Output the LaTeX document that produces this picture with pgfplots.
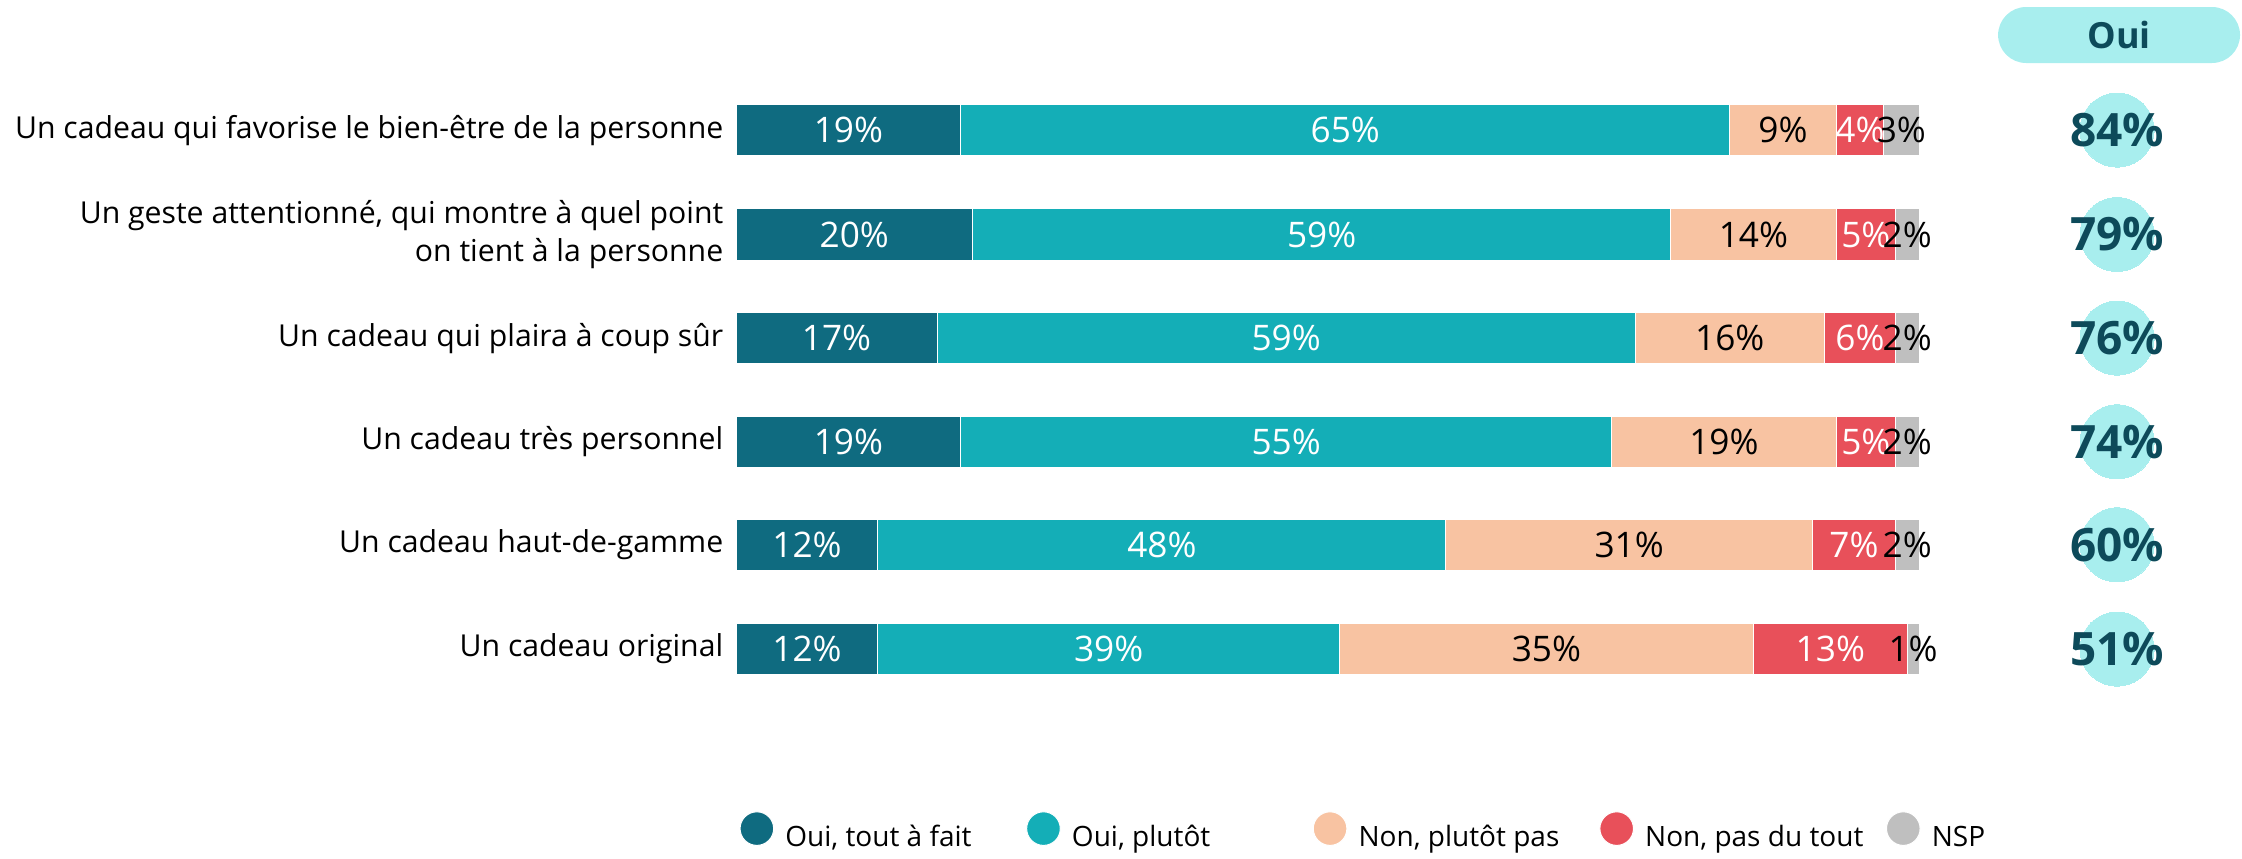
\documentclass[border=0pt]{standalone}
\usepackage{fontspec}
\setmainfont{Open Sans}
\usepackage{pgfplots}
\pgfplotsset{compat=1.18}
\usepackage{pgfplotstable}
\definecolor{c1}{HTML}{0F6B80}
\definecolor{c2}{HTML}{14AEB7}
\definecolor{c3}{HTML}{F8C3A2}
\definecolor{c4}{HTML}{E8505A}
\definecolor{c5}{HTML}{BFBFBF}
\definecolor{ouibg}{HTML}{A8EEEE}
\definecolor{ouitxt}{HTML}{0D4A5A}

\pgfplotstableread{
y a b c d e oui
130.1 19 65 9 4 3 84
234.5 20 59 14 5 2 79
338.1 17 59 16 6 2 76
441.8 19 55 19 5 2 74
544.8 12 48 31 7 2 60
649.1 12 39 35 13 1 51
}\data

\pgfplotsset{
  /pgf/number format/assume math mode=true,
  base/.style={
    scale only axis, width=560.5pt, height=214.5pt,
    xmin=-62.215, xmax=127.30, ymin=0, ymax=858, y dir=reverse,
    clip=false,
  },
  lc/.style={legend image code/.code={\fill[##1] (0pt,2.6pt) circle (4.2pt);}},
  seg/.style={fill=#1, draw=white, line width=0.25pt, lc},
  lab/.style={draw=none, mark=none, point meta=explicit,
    nodes near coords={\pgfmathprintnumber[assume math mode=true]{\pgfplotspointmeta}\%},
    every node near coord/.append style={anchor=center, inner sep=0pt, text=#1,
      font=\fontsize{8.8}{10}\selectfont}},
}

\begin{document}
\begin{tikzpicture}
\begin{axis}[base, name=ax,
  hide x axis, axis y line*=left, y axis line style={draw=none}, major tick length=0pt,
  ytick={130.1,234.5,338.1,441.8,544.8,649.1},
  yticklabels={Un cadeau qui favorise le bien-être de la personne,
    {Un geste attentionné, qui montre à quel point\\on tient à la personne},
    Un cadeau qui plaira à coup sûr, Un cadeau très personnel,
    Un cadeau haut-de-gamme, Un cadeau original},
  yticklabel style={font=\fontsize{7.55}{9.6}\selectfont, align=right, anchor=east,
    inner sep=0pt, xshift=181pt, text=black},
  xbar stacked, bar width=51.5,
  legend columns=5,
  legend style={at={(axis cs:0.3,832)}, anchor=west, draw=none, fill=none,
    inner sep=0pt, outer sep=0pt, font=\fontsize{7}{9}\selectfont,
    nodes={inner sep=0pt},
    /tikz/every odd column/.append style={column sep=2.8pt},
    /tikz/every even column/.append style={column sep=0pt}},
]
\addplot[seg=c1] table[x=a, y=y] {\data};
\addlegendentry{\makebox[60.2pt][l]{Oui, tout à fait}}
\addplot[seg=c2] table[x=b, y=y] {\data};
\addlegendentry{\makebox[60.2pt][l]{Oui, plutôt}}
\addplot[seg=c3] table[x=c, y=y] {\data};
\addlegendentry{\makebox[60.2pt][l]{Non, plutôt pas}}
\addplot[seg=c4] table[x=d, y=y] {\data};
\addlegendentry{\makebox[60.2pt][l]{Non, pas du tout}}
\addplot[seg=c5] table[x=e, y=y] {\data};
\addlegendentry{\makebox[60.2pt][l]{NSP}}
\end{axis}

\begin{axis}[base, hide axis]
\addplot[lab=white] table[x expr=\thisrow{a}/2, y=y, meta=a] {\data};
\addplot[lab=white] table[x expr=\thisrow{a}+\thisrow{b}/2, y=y, meta=b] {\data};
\addplot[lab=black] table[x expr=\thisrow{a}+\thisrow{b}+\thisrow{c}/2, y=y, meta=c] {\data};
\addplot[lab=white] table[x expr=\thisrow{a}+\thisrow{b}+\thisrow{c}+\thisrow{d}/2, y=y, meta=d] {\data};
\addplot[lab=black] table[x expr=\thisrow{a}+\thisrow{b}+\thisrow{c}+\thisrow{d}+\thisrow{e}/2, y=y, meta=e] {\data};
\fill[ouibg, rounded corners=7pt] (axis cs:106.68,7) rectangle (axis cs:127.13,63);
\node[text=ouitxt, font=\fontsize{9}{10}\bfseries] at (axis cs:116.9,35) {Oui};
\addplot[only marks, mark=*, mark size=9.25pt, color=ouibg,
  mark options={fill=ouibg, draw=ouibg, line width=0pt},
  point meta=explicit,
  nodes near coords={\pgfmathprintnumber[assume math mode=true]{\pgfplotspointmeta}\%},
  every node near coord/.append style={anchor=center, inner sep=0pt, text=ouitxt,
    font=\fontsize{11.5}{12}\bfseries}]
  table[x expr=116.74, y=y, meta=oui] {\data};
\end{axis}
\pgfresetboundingbox
\path (ax.south west) rectangle (ax.north east);
\end{tikzpicture}
\end{document}
